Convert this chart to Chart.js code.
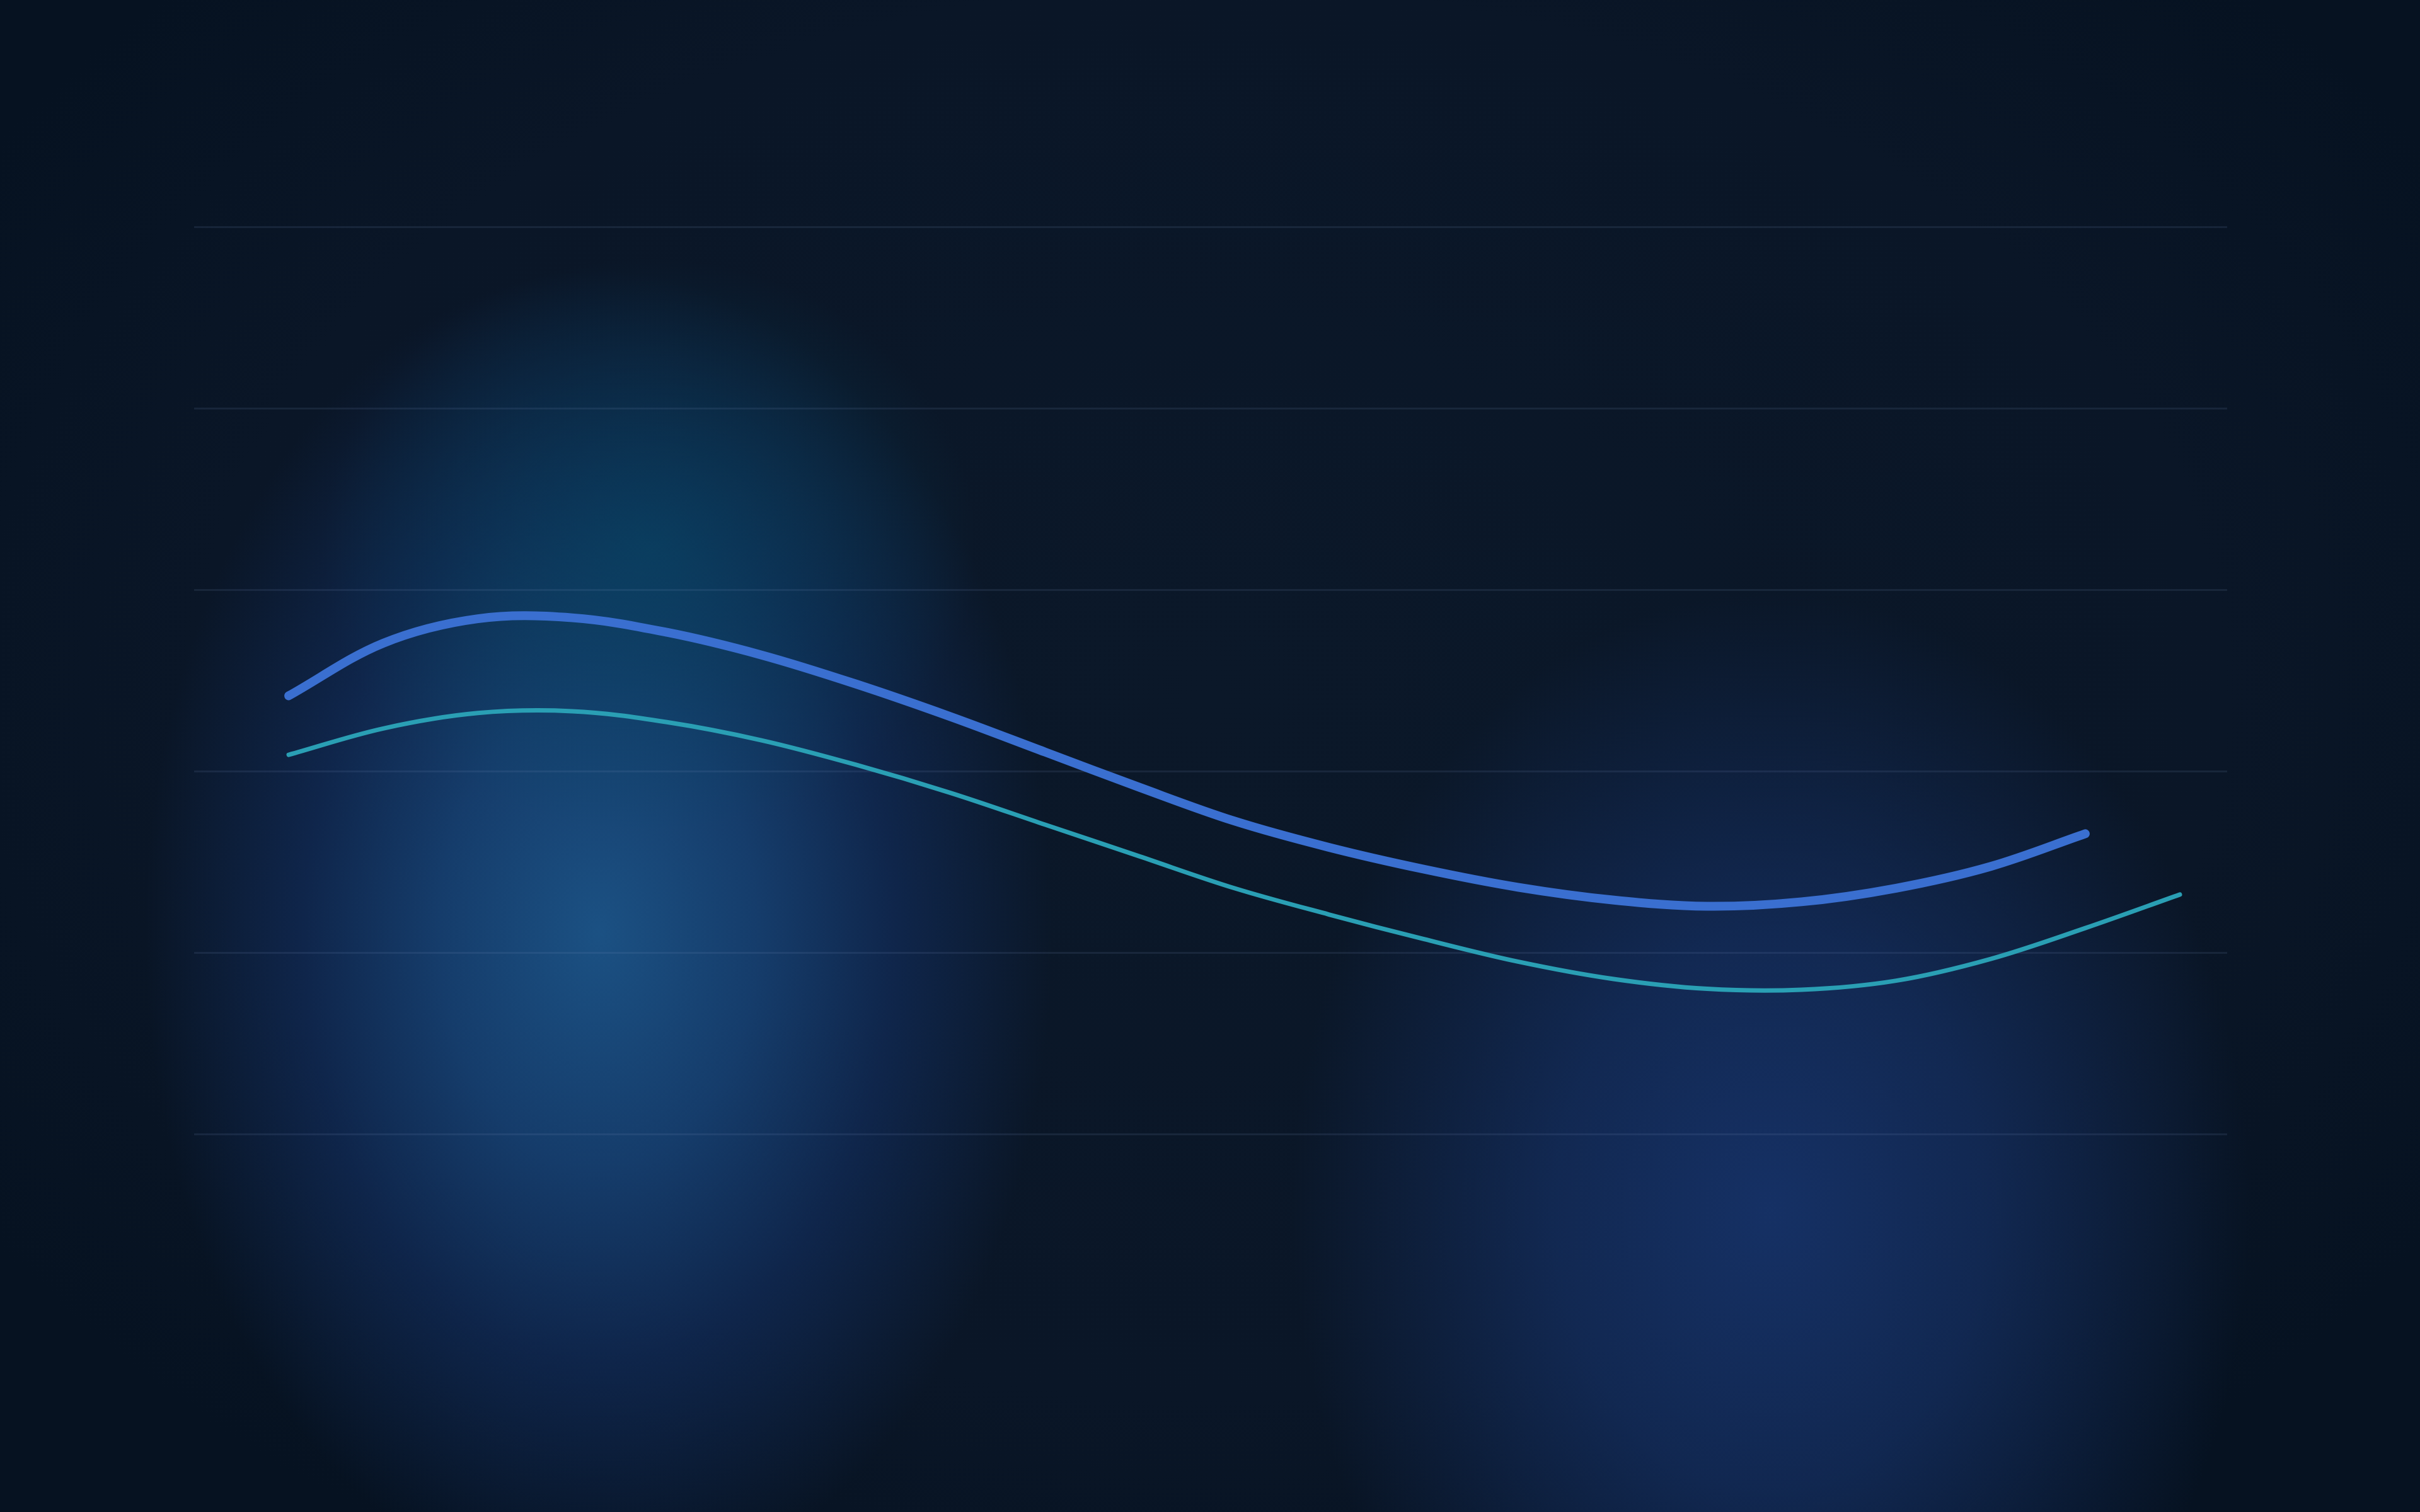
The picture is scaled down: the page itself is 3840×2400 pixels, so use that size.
<!DOCTYPE html>
<html>
<head>
<meta charset="utf-8">
<script src="https://cdn.jsdelivr.net/npm/chart.js@4/dist/chart.umd.min.js"></script>
<style>
  html, body { margin: 0; padding: 0; width: 3840px; height: 2400px; overflow: hidden; }
  body {
    background:
      radial-gradient(ellipse 520px 460px at 1030px 870px, rgba(6,74,104,0.6), rgba(6,74,104,0) 100%),
      radial-gradient(ellipse 720px 1050px at 950px 1480px, rgba(28,84,136,0.95) 0%, rgba(24,70,124,0.8) 35%, rgba(19,50,104,0.55) 65%, rgba(19,50,104,0) 100%),
      radial-gradient(ellipse 760px 980px at 2810px 1920px, rgba(22,50,104,0.95) 0%, rgba(21,48,100,0.7) 45%, rgba(20,46,98,0) 100%),
      radial-gradient(ellipse 2300px 1600px at 1920px 1100px, #0b1829 0%, #0a1627 70%, #061221 100%);
  }
  #wrap { position: absolute; left: 0; top: 0; width: 3840px; height: 2400px; }
</style>
</head>
<body>
<div id="wrap"><canvas id="c"></canvas></div>
<script>
const xIndex = [0,1,2,3,4,5,6,7,8,9,10,11,12,13,14,15,16,17,18,19,20];
const seriesA = [48.3, 54.1, 56.8, 56.9, 55.3, 52.8, 49.6, 46.0, 42.1, 38.2, 34.5, 31.6, 29.2, 27.2, 25.8, 25.1, 25.6, 27.1, 29.5, 33.1];
const seriesB = [41.8, 44.7, 46.4, 46.6, 45.4, 43.4, 40.7, 37.6, 34.1, 30.6, 27.1, 24.2, 21.5, 19.0, 17.1, 16.0, 15.9, 16.9, 19.3, 22.7, 26.4];
const yTicks = [0, 20, 40, 60, 80, 100];

const toPoints = (vals) => vals.map((v, i) => ({ x: xIndex[i], y: v }));

new Chart(document.getElementById('c'), {
  type: 'line',
  data: {
    datasets: [
      {
        label: 'A',
        data: toPoints(seriesA),
        borderColor: '#3a6fd0',
        borderWidth: 14,
        borderCapStyle: 'round',
        borderJoinStyle: 'round',
        tension: 0.35,
        pointRadius: 0,
        fill: false
      },
      {
        label: 'B',
        data: toPoints(seriesB),
        borderColor: '#2a9fb4',
        borderWidth: 7,
        borderCapStyle: 'round',
        borderJoinStyle: 'round',
        tension: 0.35,
        pointRadius: 0,
        fill: false
      }
    ]
  },
  options: {
    responsive: true,
    maintainAspectRatio: false,
    devicePixelRatio: 1,
    animation: false,
    layout: { padding: { left: 308, right: 306, top: 360, bottom: 600 } },
    plugins: { legend: { display: false }, tooltip: { enabled: false } },
    scales: {
      x: { type: 'linear', min: -1, max: 20.5, display: false },
      y: {
        min: yTicks[0], max: yTicks[yTicks.length - 1],
        afterBuildTicks: (axis) => { axis.ticks = yTicks.map(v => ({ value: v })); },
        ticks: { display: false },
        border: { display: false },
        grid: { color: 'rgba(120,150,190,0.13)', lineWidth: 3, drawTicks: false }
      }
    }
  }
});
</script>
</body>
</html>
